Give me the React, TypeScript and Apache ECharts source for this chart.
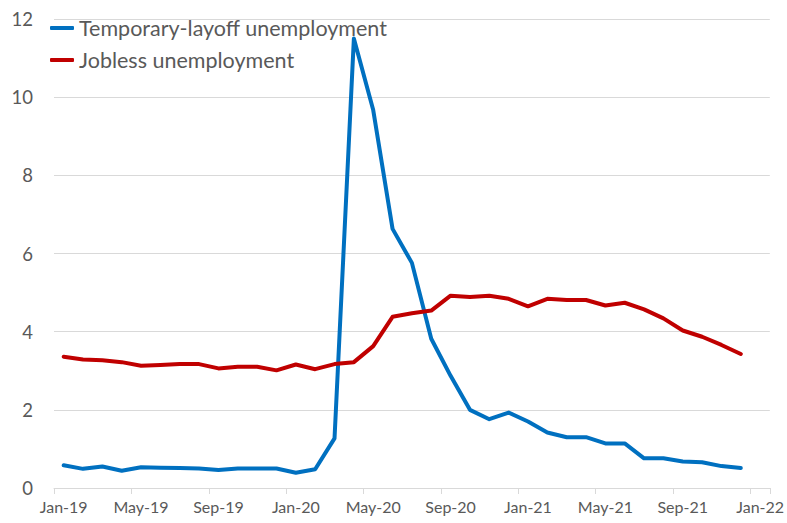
import React, { useEffect, useRef } from "react";
import * as echarts from "echarts";

const categories = [
  "Jan-19","Feb-19","Mar-19","Apr-19","May-19","Jun-19","Jul-19","Aug-19","Sep-19","Oct-19","Nov-19","Dec-19",
  "Jan-20","Feb-20","Mar-20","Apr-20","May-20","Jun-20","Jul-20","Aug-20","Sep-20","Oct-20","Nov-20","Dec-20",
  "Jan-21","Feb-21","Mar-21","Apr-21","May-21","Jun-21","Jul-21","Aug-21","Sep-21","Oct-21","Nov-21","Dec-21",
  "Jan-22",
];

const temporaryLayoff = [
  0.58, 0.49, 0.55, 0.44, 0.53, 0.52, 0.51, 0.50, 0.46, 0.50, 0.50, 0.50,
  0.39, 0.48, 1.27, 11.5, 9.67, 6.63, 5.76, 3.82, 2.87, 2.0, 1.76, 1.93,
  1.70, 1.42, 1.30, 1.30, 1.14, 1.14, 0.76, 0.76, 0.68, 0.66, 0.56, 0.51,
];

const jobless = [
  3.36, 3.29, 3.27, 3.22, 3.13, 3.15, 3.17, 3.17, 3.06, 3.10, 3.10, 3.01,
  3.16, 3.04, 3.17, 3.22, 3.63, 4.38, 4.47, 4.54, 4.92, 4.89, 4.92, 4.84,
  4.65, 4.84, 4.81, 4.81, 4.67, 4.74, 4.57, 4.34, 4.03, 3.87, 3.66, 3.43,
];

const seriesNames = ["Temporary-layoff unemployment", "Jobless unemployment"];
const FONT = "Lato, 'Open Sans', sans-serif";

export default function App() {
  const ref = useRef<HTMLDivElement>(null);
  useEffect(() => {
    document.body.style.margin = "0";
    const chart = echarts.init(ref.current!, null, { renderer: "svg" });
    chart.setOption({
      animation: false,
      backgroundColor: "#ffffff",
      grid: { left: 54, right: 13, top: 19, bottom: 35, containLabel: false },
      legend: {
        orient: "vertical",
        left: 50,
        top: 17,
        padding: 0,
        itemWidth: 24,
        itemHeight: 4,
        itemGap: 10,
        icon: "roundRect",
        textStyle: { color: "#595959", fontSize: 21.5, fontFamily: FONT, lineHeight: 21 },
        data: seriesNames,
      },
      xAxis: {
        type: "category",
        data: categories,
        boundaryGap: true,
        axisLine: { lineStyle: { color: "#D9D9D9", width: 1 } },
        axisTick: { show: true, interval: 3, length: 6, lineStyle: { color: "#D9D9D9" } },
        axisLabel: { interval: 3, color: "#595959", fontSize: 16, fontFamily: FONT, margin: 10 },
        splitLine: { show: false },
      },
      yAxis: {
        type: "value",
        min: 0,
        max: 12,
        interval: 2,
        axisLine: { show: false },
        axisTick: { show: false },
        axisLabel: { color: "#595959", fontSize: 18.5, fontFamily: FONT, margin: 21 },
        splitLine: { lineStyle: { color: "#D9D9D9", width: 1 } },
      },
      series: [
        {
          name: seriesNames[0],
          type: "line",
          data: temporaryLayoff,
          showSymbol: false,
          symbol: "none",
          lineStyle: { color: "#0070C0", width: 4, cap: "round", join: "round" },
          itemStyle: { color: "#0070C0" },
        },
        {
          name: seriesNames[1],
          type: "line",
          data: jobless,
          showSymbol: false,
          symbol: "none",
          lineStyle: { color: "#C00000", width: 4, cap: "round", join: "round" },
          itemStyle: { color: "#C00000" },
        },
      ],
    });
    return () => chart.dispose();
  }, []);
  return <div ref={ref} style={{ width: 787, height: 523 }} />;
}
